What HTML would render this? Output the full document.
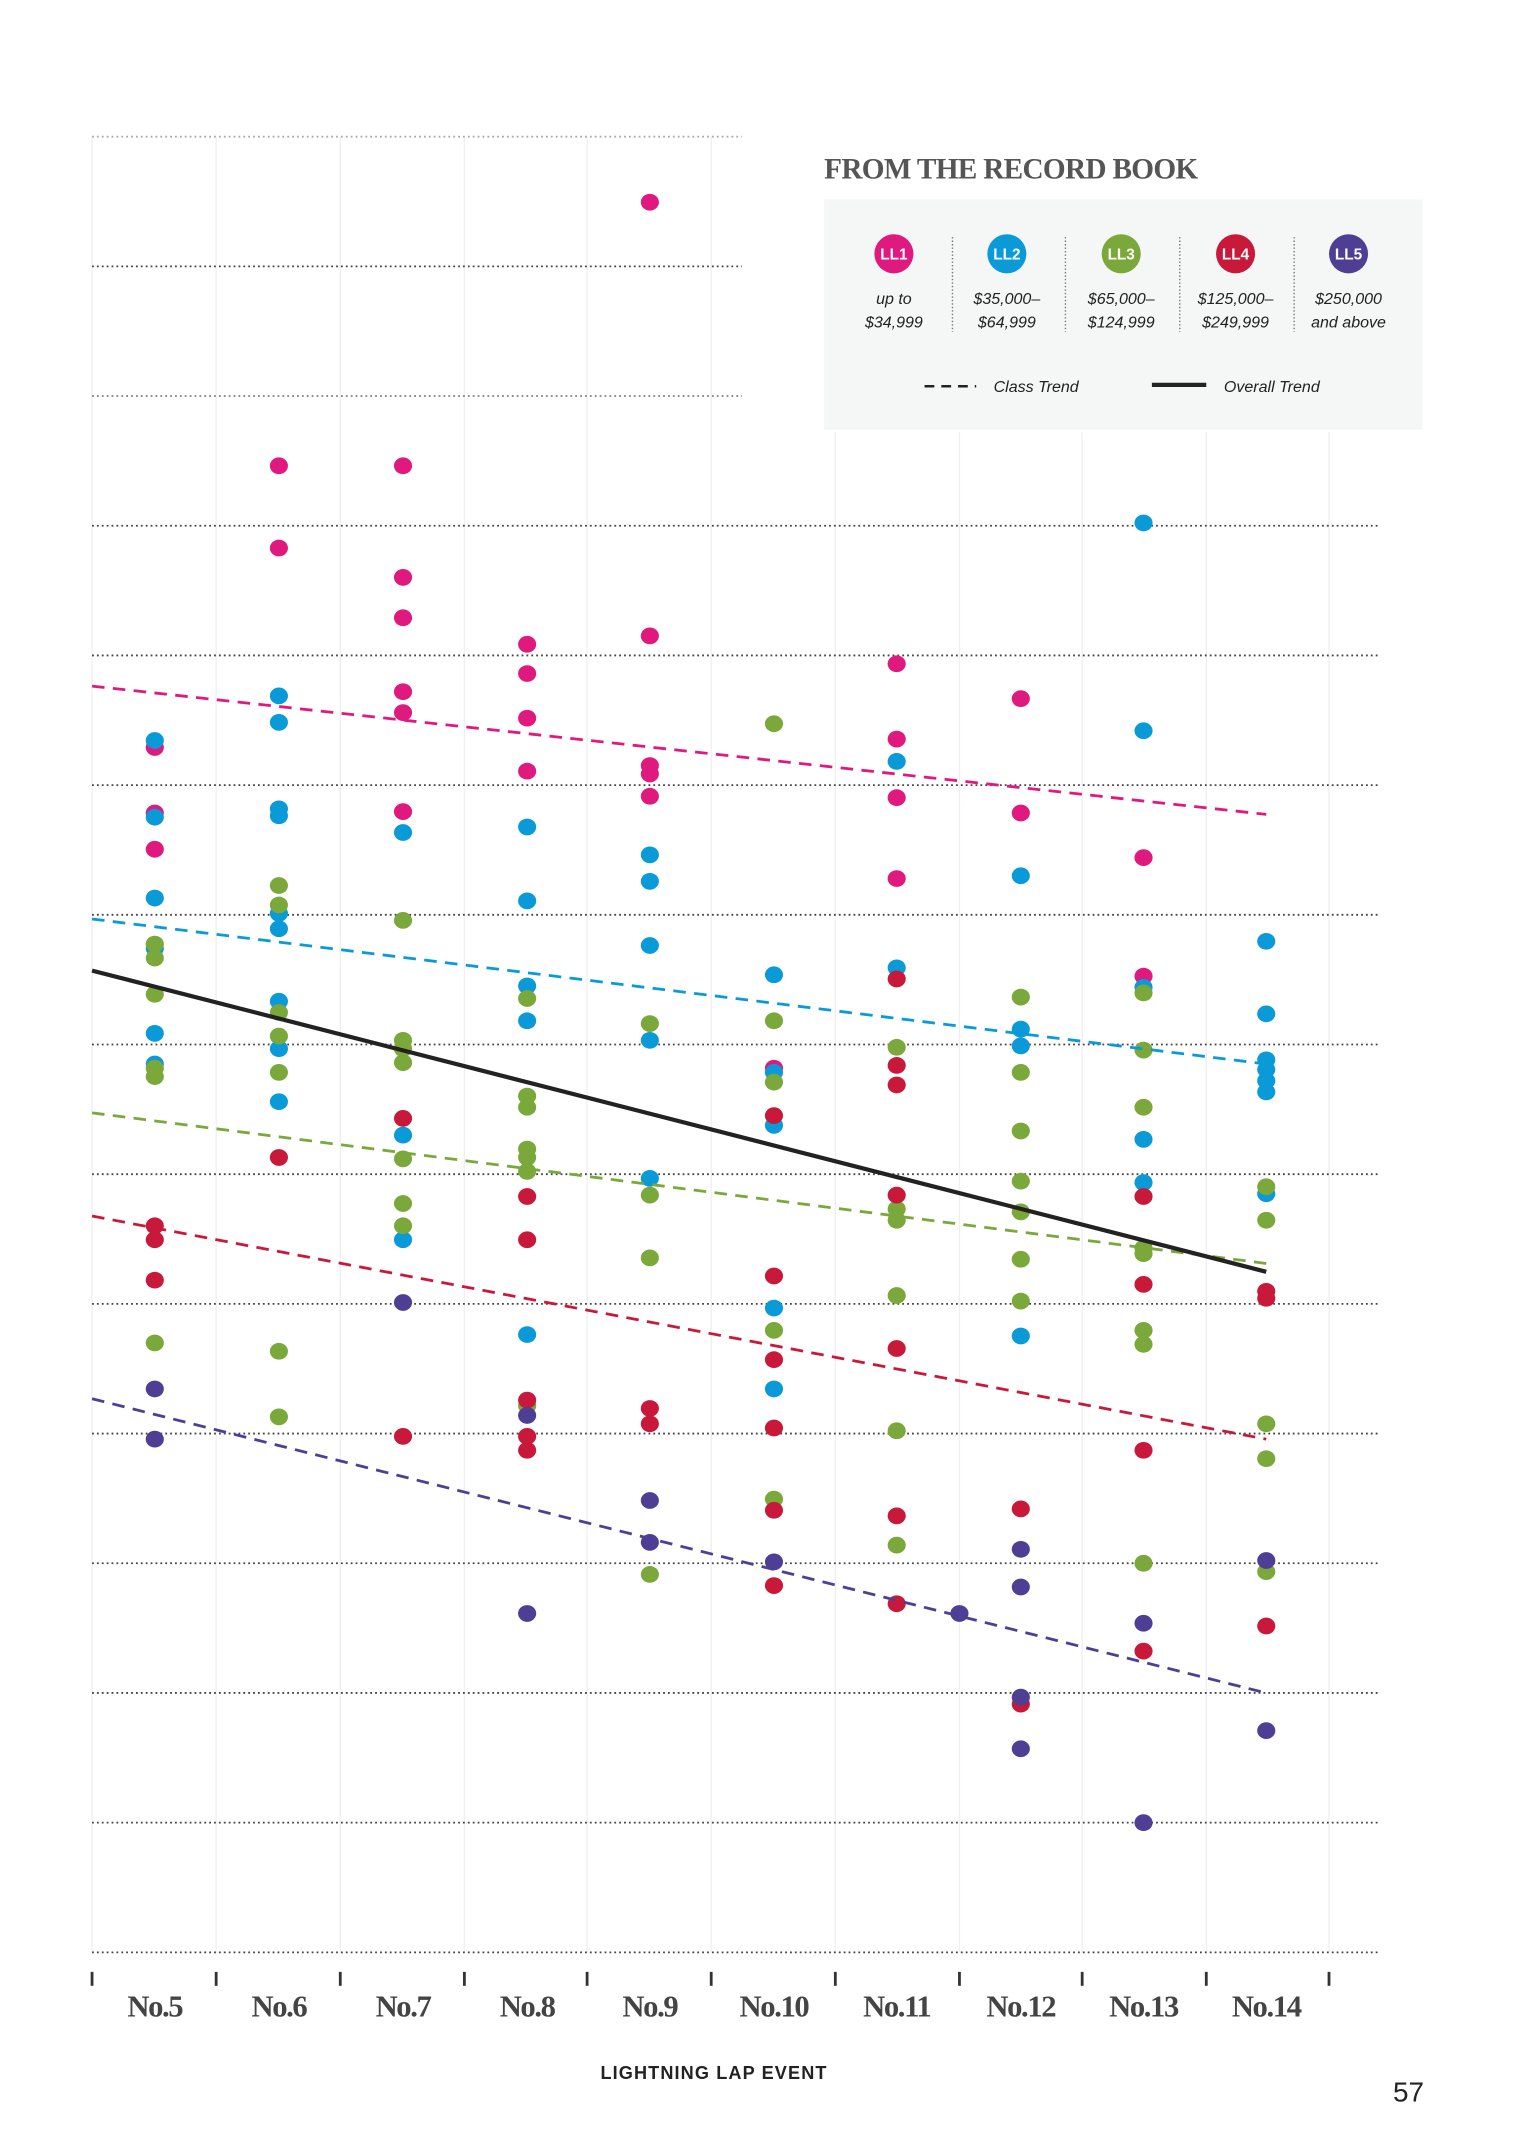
<!DOCTYPE html>
<html><head><meta charset="utf-8"><style>
html,body{margin:0;padding:0;background:#fff;}
svg{display:block;}
</style></head><body>
<svg width="1534" height="2148" viewBox="0 0 1100 1540.3" preserveAspectRatio="none" xmlns="http://www.w3.org/2000/svg">
<rect width="1100" height="1541" fill="#fff"/>
<!-- vertical faint lines -->
<g stroke="#f0f0f0" stroke-width="1">
<line x1="66" y1="98" x2="66" y2="1400"/><line x1="155" y1="98" x2="155" y2="1400"/><line x1="244" y1="98" x2="244" y2="1400"/><line x1="333" y1="98" x2="333" y2="1400"/><line x1="421" y1="98" x2="421" y2="1400"/><line x1="510" y1="98" x2="510" y2="1400"/><line x1="599" y1="310" x2="599" y2="1400"/><line x1="688" y1="310" x2="688" y2="1400"/><line x1="776" y1="310" x2="776" y2="1400"/><line x1="865" y1="310" x2="865" y2="1400"/><line x1="953" y1="310" x2="953" y2="1400"/>
</g>
<!-- horizontal dotted gridlines -->
<g stroke="#444" stroke-width="1.3" stroke-dasharray="1.3 2.2">
<line x1="66" y1="98" x2="532" y2="98" stroke="#aaa"/><line x1="66" y1="191" x2="532" y2="191"/><line x1="66" y1="284" x2="532" y2="284" stroke="#888"/>
<line x1="66" y1="377" x2="990" y2="377"/><line x1="66" y1="470" x2="990" y2="470"/><line x1="66" y1="563" x2="990" y2="563"/><line x1="66" y1="656" x2="990" y2="656"/><line x1="66" y1="749" x2="990" y2="749"/><line x1="66" y1="842" x2="990" y2="842"/><line x1="66" y1="935" x2="990" y2="935"/><line x1="66" y1="1028" x2="990" y2="1028"/><line x1="66" y1="1121" x2="990" y2="1121"/><line x1="66" y1="1214" x2="990" y2="1214"/><line x1="66" y1="1307" x2="990" y2="1307"/><line x1="66" y1="1400" x2="990" y2="1400"/>
</g>
<!-- ticks -->
<g stroke="#333" stroke-width="2">
<line x1="66" y1="1414" x2="66" y2="1424"/><line x1="155" y1="1414" x2="155" y2="1424"/><line x1="244" y1="1414" x2="244" y2="1424"/><line x1="333" y1="1414" x2="333" y2="1424"/><line x1="421" y1="1414" x2="421" y2="1424"/><line x1="510" y1="1414" x2="510" y2="1424"/><line x1="599" y1="1414" x2="599" y2="1424"/><line x1="688" y1="1414" x2="688" y2="1424"/><line x1="776" y1="1414" x2="776" y2="1424"/><line x1="865" y1="1414" x2="865" y2="1424"/><line x1="953" y1="1414" x2="953" y2="1424"/>
</g>
<g font-family="Liberation Serif, serif" font-weight="bold" font-size="22" fill="#444" text-anchor="middle" letter-spacing="-1">
<text x="111" y="1446">No.5</text><text x="200" y="1446">No.6</text><text x="289" y="1446">No.7</text><text x="378" y="1446">No.8</text><text x="466" y="1446">No.9</text><text x="555" y="1446">No.10</text><text x="643" y="1446">No.11</text><text x="732" y="1446">No.12</text><text x="820" y="1446">No.13</text><text x="908" y="1446">No.14</text>
</g>
<text x="512" y="1491" font-family="Liberation Sans, sans-serif" font-weight="bold" font-size="13" fill="#222" text-anchor="middle" letter-spacing="0.8">LIGHTNING LAP EVENT</text>
<text x="1010" y="1507" font-family="Liberation Sans, sans-serif" font-size="20" fill="#222" text-anchor="middle">57</text>

<!-- legend -->
<text x="591" y="128" font-family="Liberation Serif, serif" font-weight="bold" font-size="21" fill="#555" letter-spacing="-0.5">FROM THE RECORD BOOK</text>
<rect x="591" y="143" width="429" height="165" fill="#f5f6f6"/>
<g stroke="#777" stroke-width="1" stroke-dasharray="1 1.5">
<line x1="683" y1="170" x2="683" y2="238"/><line x1="764" y1="170" x2="764" y2="238"/><line x1="846" y1="170" x2="846" y2="238"/><line x1="928" y1="170" x2="928" y2="238"/>
</g>
<circle cx="641" cy="182" r="14" fill="#e0197f"/><circle cx="722" cy="182" r="14" fill="#0a9ad8"/><circle cx="804" cy="182" r="14" fill="#7aa83a"/><circle cx="886" cy="182" r="14" fill="#c8193a"/><circle cx="967" cy="182" r="14" fill="#4e3f95"/>
<g font-family="Liberation Sans, sans-serif" font-size="11" fill="#fff" text-anchor="middle" font-weight="bold">
<text x="641" y="186">LL1</text><text x="722" y="186">LL2</text><text x="804" y="186">LL3</text><text x="886" y="186">LL4</text><text x="967" y="186">LL5</text>
</g>
<g font-family="Liberation Sans, sans-serif" font-size="11.5" font-style="italic" fill="#222" text-anchor="middle">
<text x="641" y="218">up to</text><text x="641" y="235">$34,999</text>
<text x="722" y="218">$35,000–</text><text x="722" y="235">$64,999</text>
<text x="804" y="218">$65,000–</text><text x="804" y="235">$124,999</text>
<text x="886" y="218">$125,000–</text><text x="886" y="235">$249,999</text>
<text x="967" y="218">$250,000</text><text x="967" y="235">and above</text>
<text x="743" y="281">Class Trend</text><text x="912" y="281">Overall Trend</text>
</g>
<line x1="663" y1="277" x2="700" y2="277" stroke="#222" stroke-width="1.8" stroke-dasharray="7 5"/>
<line x1="826" y1="276" x2="865" y2="276" stroke="#222" stroke-width="3"/>

<!-- dots -->
<g fill="#e0197f">
<ellipse cx="111" cy="536" rx="6.5" ry="6"/><ellipse cx="111" cy="583" rx="6.5" ry="6"/><ellipse cx="111" cy="609" rx="6.5" ry="6"/>
<ellipse cx="200" cy="334" rx="6.5" ry="6"/><ellipse cx="200" cy="393" rx="6.5" ry="6"/>
<ellipse cx="289" cy="334" rx="6.5" ry="6"/><ellipse cx="289" cy="414" rx="6.5" ry="6"/><ellipse cx="289" cy="443" rx="6.5" ry="6"/><ellipse cx="289" cy="496" rx="6.5" ry="6"/><ellipse cx="289" cy="511" rx="6.5" ry="6"/><ellipse cx="289" cy="582" rx="6.5" ry="6"/>
<ellipse cx="378" cy="462" rx="6.5" ry="6"/><ellipse cx="378" cy="483" rx="6.5" ry="6"/><ellipse cx="378" cy="515" rx="6.5" ry="6"/><ellipse cx="378" cy="553" rx="6.5" ry="6"/>
<ellipse cx="466" cy="145" rx="6.5" ry="6"/><ellipse cx="466" cy="456" rx="6.5" ry="6"/><ellipse cx="466" cy="549" rx="6.5" ry="6"/><ellipse cx="466" cy="555" rx="6.5" ry="6"/><ellipse cx="466" cy="571" rx="6.5" ry="6"/>
<ellipse cx="555" cy="766" rx="6.5" ry="6"/>
<ellipse cx="643" cy="476" rx="6.5" ry="6"/><ellipse cx="643" cy="530" rx="6.5" ry="6"/><ellipse cx="643" cy="572" rx="6.5" ry="6"/><ellipse cx="643" cy="630" rx="6.5" ry="6"/>
<ellipse cx="732" cy="501" rx="6.5" ry="6"/><ellipse cx="732" cy="583" rx="6.5" ry="6"/>
<ellipse cx="820" cy="615" rx="6.5" ry="6"/><ellipse cx="820" cy="700" rx="6.5" ry="6"/>
</g>
<g fill="#0a9ad8">
<ellipse cx="111" cy="531" rx="6.5" ry="6"/><ellipse cx="111" cy="586" rx="6.5" ry="6"/><ellipse cx="111" cy="644" rx="6.5" ry="6"/><ellipse cx="111" cy="680" rx="6.5" ry="6"/><ellipse cx="111" cy="741" rx="6.5" ry="6"/><ellipse cx="111" cy="763" rx="6.5" ry="6"/>
<ellipse cx="200" cy="499" rx="6.5" ry="6"/><ellipse cx="200" cy="518" rx="6.5" ry="6"/><ellipse cx="200" cy="580" rx="6.5" ry="6"/><ellipse cx="200" cy="585" rx="6.5" ry="6"/><ellipse cx="200" cy="655" rx="6.5" ry="6"/><ellipse cx="200" cy="666" rx="6.5" ry="6"/><ellipse cx="200" cy="718" rx="6.5" ry="6"/><ellipse cx="200" cy="752" rx="6.5" ry="6"/><ellipse cx="200" cy="790" rx="6.5" ry="6"/>
<ellipse cx="289" cy="597" rx="6.5" ry="6"/><ellipse cx="289" cy="814" rx="6.5" ry="6"/><ellipse cx="289" cy="889" rx="6.5" ry="6"/>
<ellipse cx="378" cy="593" rx="6.5" ry="6"/><ellipse cx="378" cy="646" rx="6.5" ry="6"/><ellipse cx="378" cy="707" rx="6.5" ry="6"/><ellipse cx="378" cy="732" rx="6.5" ry="6"/><ellipse cx="378" cy="957" rx="6.5" ry="6"/>
<ellipse cx="466" cy="613" rx="6.5" ry="6"/><ellipse cx="466" cy="632" rx="6.5" ry="6"/><ellipse cx="466" cy="678" rx="6.5" ry="6"/><ellipse cx="466" cy="746" rx="6.5" ry="6"/><ellipse cx="466" cy="845" rx="6.5" ry="6"/>
<ellipse cx="555" cy="699" rx="6.5" ry="6"/><ellipse cx="555" cy="769" rx="6.5" ry="6"/><ellipse cx="555" cy="807" rx="6.5" ry="6"/><ellipse cx="555" cy="938" rx="6.5" ry="6"/><ellipse cx="555" cy="996" rx="6.5" ry="6"/>
<ellipse cx="643" cy="546" rx="6.5" ry="6"/><ellipse cx="643" cy="694" rx="6.5" ry="6"/>
<ellipse cx="732" cy="628" rx="6.5" ry="6"/><ellipse cx="732" cy="738" rx="6.5" ry="6"/><ellipse cx="732" cy="750" rx="6.5" ry="6"/><ellipse cx="732" cy="958" rx="6.5" ry="6"/>
<ellipse cx="820" cy="375" rx="6.5" ry="6"/><ellipse cx="820" cy="524" rx="6.5" ry="6"/><ellipse cx="820" cy="708" rx="6.5" ry="6"/><ellipse cx="820" cy="817" rx="6.5" ry="6"/><ellipse cx="820" cy="848" rx="6.5" ry="6"/>
<ellipse cx="908" cy="675" rx="6.5" ry="6"/><ellipse cx="908" cy="727" rx="6.5" ry="6"/><ellipse cx="908" cy="760" rx="6.5" ry="6"/><ellipse cx="908" cy="767" rx="6.5" ry="6"/><ellipse cx="908" cy="775" rx="6.5" ry="6"/><ellipse cx="908" cy="783" rx="6.5" ry="6"/><ellipse cx="908" cy="856" rx="6.5" ry="6"/>
</g>
<g fill="#7aa83a">
<ellipse cx="111" cy="677" rx="6.5" ry="6"/><ellipse cx="111" cy="687" rx="6.5" ry="6"/><ellipse cx="111" cy="713" rx="6.5" ry="6"/><ellipse cx="111" cy="766" rx="6.5" ry="6"/><ellipse cx="111" cy="772" rx="6.5" ry="6"/><ellipse cx="111" cy="963" rx="6.5" ry="6"/>
<ellipse cx="200" cy="635" rx="6.5" ry="6"/><ellipse cx="200" cy="649" rx="6.5" ry="6"/><ellipse cx="200" cy="726" rx="6.5" ry="6"/><ellipse cx="200" cy="743" rx="6.5" ry="6"/><ellipse cx="200" cy="769" rx="6.5" ry="6"/><ellipse cx="200" cy="969" rx="6.5" ry="6"/><ellipse cx="200" cy="1016" rx="6.5" ry="6"/>
<ellipse cx="289" cy="660" rx="6.5" ry="6"/><ellipse cx="289" cy="746" rx="6.5" ry="6"/><ellipse cx="289" cy="752" rx="6.5" ry="6"/><ellipse cx="289" cy="762" rx="6.5" ry="6"/><ellipse cx="289" cy="831" rx="6.5" ry="6"/><ellipse cx="289" cy="863" rx="6.5" ry="6"/><ellipse cx="289" cy="879" rx="6.5" ry="6"/>
<ellipse cx="378" cy="716" rx="6.5" ry="6"/><ellipse cx="378" cy="786" rx="6.5" ry="6"/><ellipse cx="378" cy="794" rx="6.5" ry="6"/><ellipse cx="378" cy="824" rx="6.5" ry="6"/><ellipse cx="378" cy="830" rx="6.5" ry="6"/><ellipse cx="378" cy="840" rx="6.5" ry="6"/><ellipse cx="378" cy="1008" rx="6.5" ry="6"/>
<ellipse cx="466" cy="734" rx="6.5" ry="6"/><ellipse cx="466" cy="857" rx="6.5" ry="6"/><ellipse cx="466" cy="902" rx="6.5" ry="6"/><ellipse cx="466" cy="1129" rx="6.5" ry="6"/>
<ellipse cx="555" cy="519" rx="6.5" ry="6"/><ellipse cx="555" cy="732" rx="6.5" ry="6"/><ellipse cx="555" cy="776" rx="6.5" ry="6"/><ellipse cx="555" cy="954" rx="6.5" ry="6"/><ellipse cx="555" cy="1075" rx="6.5" ry="6"/>
<ellipse cx="643" cy="751" rx="6.5" ry="6"/><ellipse cx="643" cy="867" rx="6.5" ry="6"/><ellipse cx="643" cy="875" rx="6.5" ry="6"/><ellipse cx="643" cy="929" rx="6.5" ry="6"/><ellipse cx="643" cy="1026" rx="6.5" ry="6"/><ellipse cx="643" cy="1108" rx="6.5" ry="6"/>
<ellipse cx="732" cy="715" rx="6.5" ry="6"/><ellipse cx="732" cy="769" rx="6.5" ry="6"/><ellipse cx="732" cy="811" rx="6.5" ry="6"/><ellipse cx="732" cy="847" rx="6.5" ry="6"/><ellipse cx="732" cy="869" rx="6.5" ry="6"/><ellipse cx="732" cy="903" rx="6.5" ry="6"/><ellipse cx="732" cy="933" rx="6.5" ry="6"/>
<ellipse cx="820" cy="712" rx="6.5" ry="6"/><ellipse cx="820" cy="753" rx="6.5" ry="6"/><ellipse cx="820" cy="794" rx="6.5" ry="6"/><ellipse cx="820" cy="895" rx="6.5" ry="6"/><ellipse cx="820" cy="899" rx="6.5" ry="6"/><ellipse cx="820" cy="954" rx="6.5" ry="6"/><ellipse cx="820" cy="964" rx="6.5" ry="6"/><ellipse cx="820" cy="1121" rx="6.5" ry="6"/>
<ellipse cx="908" cy="851" rx="6.5" ry="6"/><ellipse cx="908" cy="875" rx="6.5" ry="6"/><ellipse cx="908" cy="1021" rx="6.5" ry="6"/><ellipse cx="908" cy="1046" rx="6.5" ry="6"/><ellipse cx="908" cy="1127" rx="6.5" ry="6"/>
</g>
<g fill="#c8193a">
<ellipse cx="111" cy="879" rx="6.5" ry="6"/><ellipse cx="111" cy="889" rx="6.5" ry="6"/><ellipse cx="111" cy="918" rx="6.5" ry="6"/>
<ellipse cx="200" cy="830" rx="6.5" ry="6"/>
<ellipse cx="289" cy="802" rx="6.5" ry="6"/><ellipse cx="289" cy="1030" rx="6.5" ry="6"/>
<ellipse cx="378" cy="858" rx="6.5" ry="6"/><ellipse cx="378" cy="889" rx="6.5" ry="6"/><ellipse cx="378" cy="1004" rx="6.5" ry="6"/><ellipse cx="378" cy="1030" rx="6.5" ry="6"/><ellipse cx="378" cy="1040" rx="6.5" ry="6"/>
<ellipse cx="466" cy="1010" rx="6.5" ry="6"/><ellipse cx="466" cy="1021" rx="6.5" ry="6"/>
<ellipse cx="555" cy="800" rx="6.5" ry="6"/><ellipse cx="555" cy="915" rx="6.5" ry="6"/><ellipse cx="555" cy="975" rx="6.5" ry="6"/><ellipse cx="555" cy="1024" rx="6.5" ry="6"/><ellipse cx="555" cy="1083" rx="6.5" ry="6"/><ellipse cx="555" cy="1137" rx="6.5" ry="6"/>
<ellipse cx="643" cy="702" rx="6.5" ry="6"/><ellipse cx="643" cy="764" rx="6.5" ry="6"/><ellipse cx="643" cy="778" rx="6.5" ry="6"/><ellipse cx="643" cy="857" rx="6.5" ry="6"/><ellipse cx="643" cy="967" rx="6.5" ry="6"/><ellipse cx="643" cy="1087" rx="6.5" ry="6"/><ellipse cx="643" cy="1150" rx="6.5" ry="6"/>
<ellipse cx="732" cy="1082" rx="6.5" ry="6"/><ellipse cx="732" cy="1222" rx="6.5" ry="6"/>
<ellipse cx="820" cy="858" rx="6.5" ry="6"/><ellipse cx="820" cy="921" rx="6.5" ry="6"/><ellipse cx="820" cy="1040" rx="6.5" ry="6"/><ellipse cx="820" cy="1184" rx="6.5" ry="6"/>
<ellipse cx="908" cy="926" rx="6.5" ry="6"/><ellipse cx="908" cy="931" rx="6.5" ry="6"/><ellipse cx="908" cy="1166" rx="6.5" ry="6"/>
</g>
<g fill="#4e3f95">
<ellipse cx="111" cy="996" rx="6.5" ry="6"/><ellipse cx="111" cy="1032" rx="6.5" ry="6"/>
<ellipse cx="289" cy="934" rx="6.5" ry="6"/>
<ellipse cx="378" cy="1015" rx="6.5" ry="6"/><ellipse cx="378" cy="1157" rx="6.5" ry="6"/>
<ellipse cx="466" cy="1076" rx="6.5" ry="6"/><ellipse cx="466" cy="1106" rx="6.5" ry="6"/>
<ellipse cx="555" cy="1120" rx="6.5" ry="6"/>
<ellipse cx="688" cy="1157" rx="6.5" ry="6"/>
<ellipse cx="732" cy="1111" rx="6.5" ry="6"/><ellipse cx="732" cy="1138" rx="6.5" ry="6"/><ellipse cx="732" cy="1217" rx="6.5" ry="6"/><ellipse cx="732" cy="1254" rx="6.5" ry="6"/>
<ellipse cx="820" cy="1164" rx="6.5" ry="6"/><ellipse cx="820" cy="1307" rx="6.5" ry="6"/>
<ellipse cx="908" cy="1119" rx="6.5" ry="6"/><ellipse cx="908" cy="1241" rx="6.5" ry="6"/>
</g>

<!-- trend lines -->
<g stroke-width="2" stroke-dasharray="9 6" fill="none">
<line x1="66" y1="492" x2="908" y2="584" stroke="#e0197f"/>
<line x1="66" y1="659" x2="908" y2="763" stroke="#0a9ad8"/>
<line x1="66" y1="798" x2="908" y2="906" stroke="#7aa83a"/>
<line x1="66" y1="872" x2="908" y2="1032" stroke="#c8193a"/>
<line x1="66" y1="1003" x2="908" y2="1214" stroke="#4e3f95"/>
</g>
<line x1="66" y1="696" x2="908" y2="912" stroke="#222" stroke-width="3"/>
</svg>
</body></html>
